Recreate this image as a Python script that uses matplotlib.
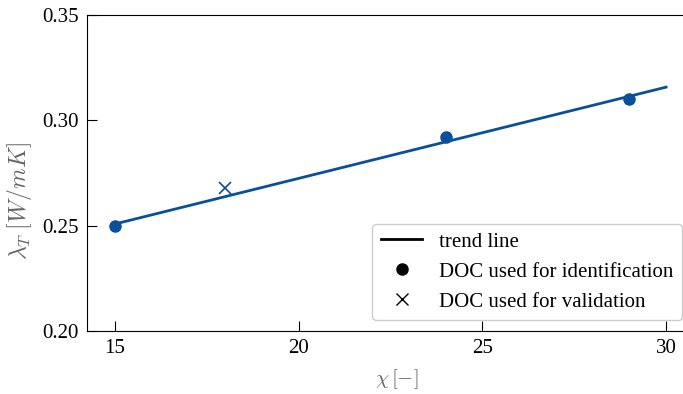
import matplotlib
matplotlib.use("Agg")
import matplotlib.pyplot as plt
import numpy as np
from matplotlib.lines import Line2D

# DOC data
chi_ident = [15, 24, 29]
lam_ident = [0.250, 0.292, 0.310]
chi_valid = [18]
lam_valid = [0.268]
trend_x = [15, 30]

plt.rcParams["font.family"] = ["Liberation Serif", "DejaVu Serif"]
plt.rcParams["mathtext.fontset"] = "cm"

blue = "#0a4f9c"

fig = plt.figure(figsize=(6.83, 3.94), dpi=100)
ax = fig.add_axes([0.1274, 0.1599, 0.8726, 0.8020])

coef = np.polyfit(chi_ident, lam_ident, 1)
tx = np.array(trend_x)
ax.plot(tx, np.polyval(coef, tx), color=blue, lw=2)
ax.plot(chi_ident, lam_ident, "o", color=blue, ms=8)
ax.plot(chi_valid, lam_valid, "x", color=blue, ms=8, mew=1.2)

ax.set_xlim(14.24, 30.46)
ax.set_ylim(0.20, 0.35)
ax.set_xticks([15, 20, 25, 30])
ax.set_yticks([0.20, 0.25, 0.30, 0.35])
ax.set_yticklabels(["0.20", "0.25", "0.30", "0.35"])
ax.tick_params(direction="in", length=7, labelsize=15, pad=6)
ax.spines["right"].set_visible(False)

ax.set_xlabel(r"$\chi\,[-]$", fontsize=15, color="#666666")
ax.set_ylabel(r"$\lambda_T\;[W/mK]$", fontsize=17, color="#666666", va="center")
ax.xaxis.set_label_coords(0.52, -0.115)
ax.yaxis.set_label_coords(-0.114, 0.41)

handles = [
    Line2D([], [], color="black", lw=2),
    Line2D([], [], ls="none", marker="o", color="black", ms=8),
    Line2D([], [], ls="none", marker="x", color="black", ms=8),
]
labels = ["trend line", "DOC used for identification", "DOC used for validation"]
ax.legend(handles, labels, loc="lower right", bbox_to_anchor=(0.998, 0.035),
          fontsize=15, borderaxespad=0, framealpha=1, edgecolor="#cccccc")

fig.savefig("out.png", dpi=100)
